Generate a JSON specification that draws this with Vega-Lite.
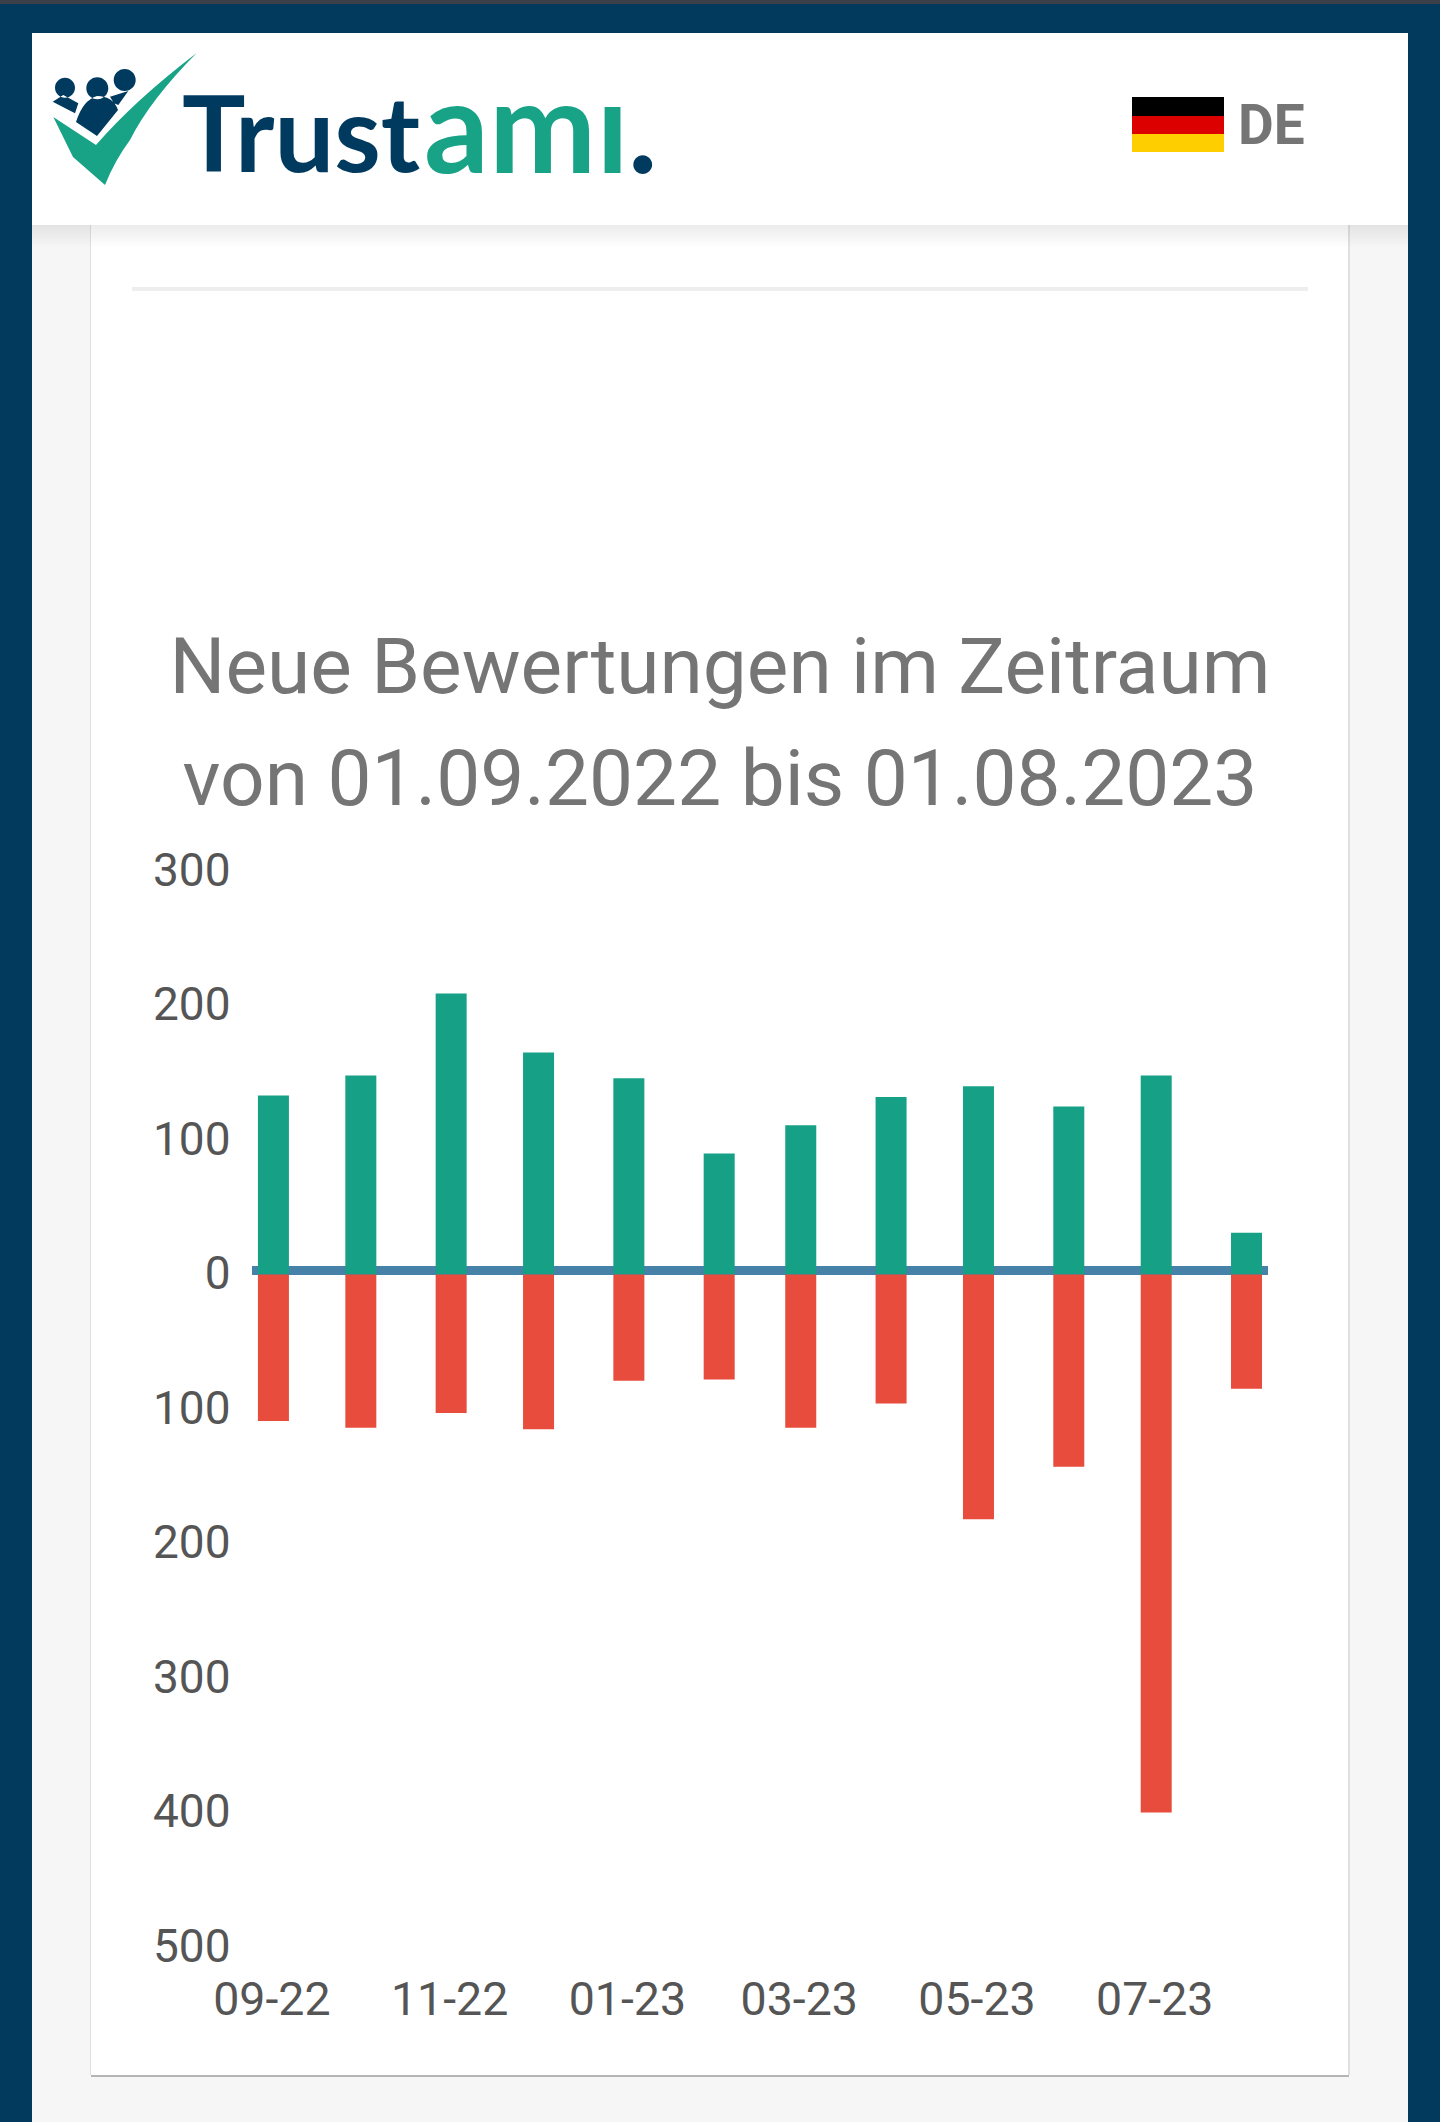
{
  "$schema": "https://vega.github.io/schema/vega-lite/v6.json",
  "autosize": "none",
  "padding": {"left": 252, "top": 871, "right": 172, "bottom": 175},
  "width": 1016,
  "height": 1076,
  "background": "#023a5e",
  "layer": [
    {
      "layer": [
        {
          "data": {"values": [{}]},
          "mark": {"type": "rect", "color": "#3c4048"},
          "encoding": {
            "x": {"datum": 0, "type": "quantitative", "scale": {"domain": [0, 1440], "range": [-252, 1188], "nice": false, "padding": 0}, "axis": null},
            "x2": {"datum": 1440},
            "y": {"datum": 0, "type": "quantitative", "scale": {"domain": [0, 2122], "range": [-871, 1251], "nice": false, "padding": 0}, "axis": null},
            "y2": {"datum": 4}
          }
        },
        {
          "data": {"values": [{}]},
          "mark": {"type": "rect", "color": "#f6f6f6"},
          "encoding": {"x": {"datum": 32}, "x2": {"datum": 1408}, "y": {"datum": 225}, "y2": {"datum": 2122}}
        },
        {
          "data": {"values": [{}]},
          "mark": {"type": "rect", "color": "#b5b5b5"},
          "encoding": {"x": {"datum": 91}, "x2": {"datum": 1349}, "y": {"datum": 225}, "y2": {"datum": 2077}}
        },
        {
          "data": {"values": [{}]},
          "mark": {"type": "rect", "color": "#e0e0e0"},
          "encoding": {"x": {"datum": 90}, "x2": {"datum": 1350}, "y": {"datum": 225}, "y2": {"datum": 2075}}
        },
        {
          "data": {"values": [{}]},
          "mark": {"type": "rect", "color": "#ffffff"},
          "encoding": {"x": {"datum": 91}, "x2": {"datum": 1348}, "y": {"datum": 225}, "y2": {"datum": 2075}}
        },
        {
          "data": {"values": [{}]},
          "mark": {
            "type": "rect",
            "color": {
              "gradient": "linear", "x1": 0, "y1": 0, "x2": 0, "y2": 1,
              "stops": [{"offset": 0, "color": "rgba(0,0,0,0.08)"}, {"offset": 1, "color": "rgba(0,0,0,0)"}]
            }
          },
          "encoding": {"x": {"datum": 32}, "x2": {"datum": 1408}, "y": {"datum": 225}, "y2": {"datum": 248}}
        },
        {
          "data": {"values": [{}]},
          "mark": {"type": "rect", "color": "#ffffff"},
          "encoding": {"x": {"datum": 32}, "x2": {"datum": 1408}, "y": {"datum": 33}, "y2": {"datum": 225}}
        },
        {
          "data": {"values": [{}]},
          "mark": {"type": "rect", "color": "#eeeeee"},
          "encoding": {"x": {"datum": 132}, "x2": {"datum": 1308}, "y": {"datum": 287}, "y2": {"datum": 291}}
        },
        {
          "data": {"values": [{}]},
          "mark": {"type": "rect", "color": "#000000"},
          "encoding": {"x": {"datum": 1132}, "x2": {"datum": 1224}, "y": {"datum": 97}, "y2": {"datum": 116}}
        },
        {
          "data": {"values": [{}]},
          "mark": {"type": "rect", "color": "#dd0000"},
          "encoding": {"x": {"datum": 1132}, "x2": {"datum": 1224}, "y": {"datum": 116}, "y2": {"datum": 134}}
        },
        {
          "data": {"values": [{}]},
          "mark": {"type": "rect", "color": "#ffce00"},
          "encoding": {"x": {"datum": 1132}, "x2": {"datum": 1224}, "y": {"datum": 134}, "y2": {"datum": 152}}
        },
        {
          "data": {"values": [{}]},
          "mark": {"type": "text", "text": "DE", "font": "Roboto", "fontWeight": "bold", "fontSize": 55, "color": "#757575", "align": "left", "baseline": "alphabetic"},
          "encoding": {"x": {"datum": 1238}, "y": {"datum": 144}}
        },
        {
          "data": {"values": [{}]},
          "mark": {
            "type": "point", "filled": true, "opacity": 1, "size": 40000, "color": "#18a387",
            "shape": "M-.717 -.03 L-.29 .25 Q.1 -.2 .717 -.67 Q.25 -.2 .05 .2 Q-.1 .4 -.2 .65 L-.52 .37 Z"
          },
          "encoding": {"x": {"datum": 125}, "y": {"datum": 120}}
        },
        {
          "data": {"values": [{}]},
          "mark": {
            "type": "point", "filled": true, "opacity": 1, "size": 40000, "color": "#003a5f",
            "shape": "M-.723 -.183 L-.617 -.25 L-.467 -.167 L-.5 -.067 Z M-.49 .02 Q-.42 -.2 -.28 -.24 Q-.12 -.24 -.07 -.1 L-.28 .16 Z M-.15 -.233 L.033 -.29 L-.067 -.15 L-.11 -.167 Z M-.7 -.323 A.1 .1 0 1 0 -.5 -.323 A.1 .1 0 1 0 -.7 -.323 Z M-.387 -.317 A.11 .11 0 1 0 -.167 -.317 A.11 .11 0 1 0 -.387 -.317 Z M-.113 -.4 A.11 .11 0 1 0 .107 -.4 A.11 .11 0 1 0 -.113 -.4 Z"
          },
          "encoding": {"x": {"datum": 125}, "y": {"datum": 120}}
        },
        {
          "data": {"values": [{}]},
          "mark": {"type": "text", "text": "Trust", "font": "Lato", "fontWeight": "bold", "fontSize": 106, "color": "#003a5f", "align": "left", "baseline": "alphabetic"},
          "encoding": {"x": {"datum": 182}, "y": {"datum": 172}}
        },
        {
          "data": {"values": [{}]},
          "mark": {"type": "text", "text": "amı", "font": "Lato", "fontWeight": "bold", "fontSize": 128, "color": "#18a387", "align": "left", "baseline": "alphabetic"},
          "encoding": {"x": {"datum": 424}, "y": {"datum": 173}}
        },
        {
          "data": {"values": [{}]},
          "mark": {"type": "text", "text": ".", "font": "Lato", "fontWeight": "bold", "fontSize": 124, "color": "#003a5f", "align": "left", "baseline": "alphabetic"},
          "encoding": {"x": {"datum": 628}, "y": {"datum": 173}}
        },
        {
          "data": {"values": [{}]},
          "mark": {
            "type": "text",
            "text": ["Neue Bewertungen im Zeitraum", "von 01.09.2022 bis 01.08.2023"],
            "font": "Roboto", "fontSize": 78.4, "color": "#757575",
            "lineHeight": 112, "align": "center", "baseline": "alphabetic"
          },
          "encoding": {"x": {"datum": 720}, "y": {"datum": 693}}
        }
      ]
    },
    {
      "data": {
        "values": [
          {"monat": "2022-09-01T00:00:00Z", "art": "positiv", "anzahl": 133},
          {"monat": "2022-10-01T00:00:00Z", "art": "positiv", "anzahl": 148},
          {"monat": "2022-11-01T00:00:00Z", "art": "positiv", "anzahl": 209},
          {"monat": "2022-12-01T00:00:00Z", "art": "positiv", "anzahl": 165},
          {"monat": "2023-01-01T00:00:00Z", "art": "positiv", "anzahl": 146},
          {"monat": "2023-02-01T00:00:00Z", "art": "positiv", "anzahl": 90},
          {"monat": "2023-03-01T00:00:00Z", "art": "positiv", "anzahl": 111},
          {"monat": "2023-04-01T00:00:00Z", "art": "positiv", "anzahl": 132},
          {"monat": "2023-05-01T00:00:00Z", "art": "positiv", "anzahl": 140},
          {"monat": "2023-06-01T00:00:00Z", "art": "positiv", "anzahl": 125},
          {"monat": "2023-07-01T00:00:00Z", "art": "positiv", "anzahl": 148},
          {"monat": "2023-08-01T00:00:00Z", "art": "positiv", "anzahl": 31},
          {"monat": "2022-09-01T00:00:00Z", "art": "negativ", "anzahl": -109},
          {"monat": "2022-10-01T00:00:00Z", "art": "negativ", "anzahl": -114},
          {"monat": "2022-11-01T00:00:00Z", "art": "negativ", "anzahl": -103},
          {"monat": "2022-12-01T00:00:00Z", "art": "negativ", "anzahl": -115},
          {"monat": "2023-01-01T00:00:00Z", "art": "negativ", "anzahl": -79},
          {"monat": "2023-02-01T00:00:00Z", "art": "negativ", "anzahl": -78},
          {"monat": "2023-03-01T00:00:00Z", "art": "negativ", "anzahl": -114},
          {"monat": "2023-04-01T00:00:00Z", "art": "negativ", "anzahl": -96},
          {"monat": "2023-05-01T00:00:00Z", "art": "negativ", "anzahl": -182},
          {"monat": "2023-06-01T00:00:00Z", "art": "negativ", "anzahl": -143},
          {"monat": "2023-07-01T00:00:00Z", "art": "negativ", "anzahl": -400},
          {"monat": "2023-08-01T00:00:00Z", "art": "negativ", "anzahl": -85}
        ]
      },
      "encoding": {
        "x": {
          "field": "monat",
          "type": "temporal",
          "title": null,
          "scale": {"type": "utc", "domain": ["2022-08-24T15:30:00Z", "2023-08-08T09:00:00Z"], "padding": 0},
          "axis": {
            "orient": "bottom",
            "zindex": 1,
            "format": "%m-%y",
            "tickCount": {"interval": "month", "step": 2},
            "grid": false, "domain": false, "ticks": false,
            "labelFont": "Roboto", "labelFontSize": 46.5, "labelColor": "#555555",
            "labelPadding": 30, "labelOffset": -2, "labelOverlap": false, "labelFlush": false
          }
        },
        "y": {
          "field": "anzahl",
          "type": "quantitative",
          "title": null,
          "scale": {"domain": [-500, 300]},
          "axis": {
            "orient": "left",
            "zindex": 1,
            "values": [-500, -400, -300, -200, -100, 0, 100, 200, 300],
            "labelExpr": "format(abs(datum.value), 'd')",
            "grid": false, "domain": false, "ticks": false,
            "labelFont": "Roboto", "labelFontSize": 46, "labelColor": "#555555",
            "labelPadding": 22, "labelOffset": 0, "labelOverlap": false, "labelFlush": false
          }
        }
      },
      "layer": [
        {
          "mark": {"type": "rule", "color": "#4682a8", "strokeWidth": 8, "yOffset": -4},
          "encoding": {"x": {}, "y": {"datum": 0}}
        },
        {
          "mark": {"type": "bar", "width": 31},
          "encoding": {
            "color": {
              "field": "art",
              "type": "nominal",
              "scale": {"domain": ["positiv", "negativ"], "range": ["#16a085", "#e74c3c"]},
              "legend": null
            }
          }
        }
      ]
    }
  ],
  "resolve": {"scale": {"x": "independent", "y": "independent"}, "axis": {"x": "independent", "y": "independent"}}
}
